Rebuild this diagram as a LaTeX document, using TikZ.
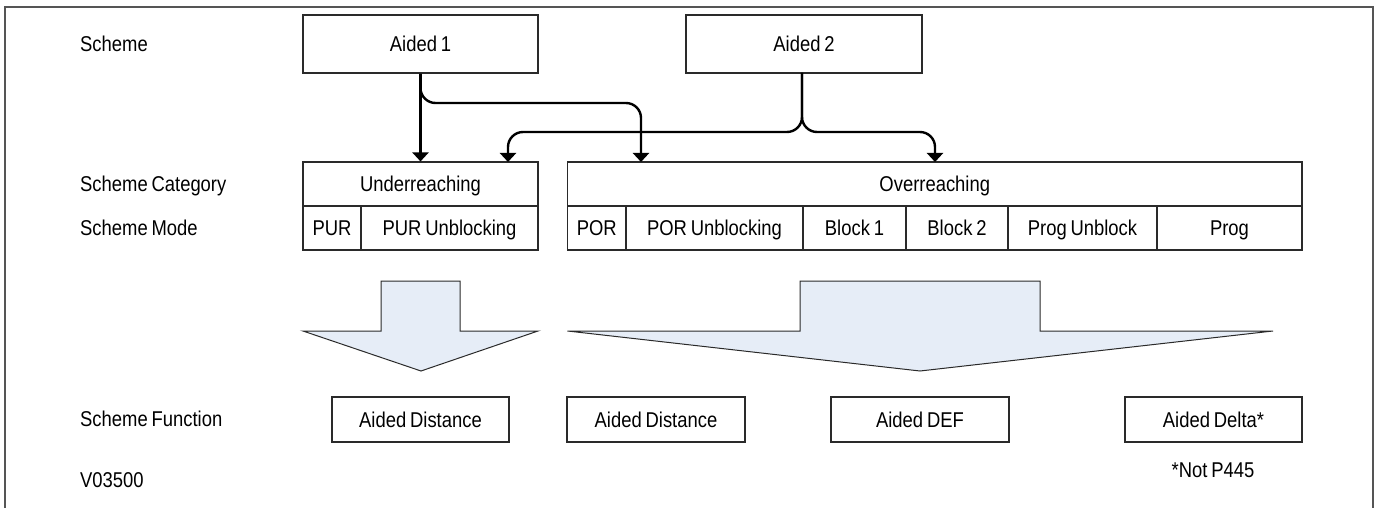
\documentclass[tikz,border=0pt]{standalone}
\usepackage{fontspec}
\setmainfont{Liberation Sans}[FakeStretch=0.86, WordSpace=0.75]
\usetikzlibrary{arrows.meta}
\definecolor{framegray}{HTML}{555555}
\definecolor{boxgray}{HTML}{2A2A2A}
\definecolor{arrowfill}{HTML}{E6EDF7}
\tikzset{
  cellbox/.style={draw=boxgray, line width=1.1bp, inner sep=0pt, align=center, text height=15.5bp, text depth=0bp},
  lbl/.style={anchor=west, inner sep=0pt, text height=15.5bp, text depth=0bp},
  conn/.style={line width=2.4bp, black, -{Triangle[width=16bp,length=9bp]}},
  bigarrow/.style={draw=boxgray, line width=1bp, fill=arrowfill, line join=miter},
}
\begin{document}
\begin{tikzpicture}[x=1bp, y=-1bp, every node/.style={font=\fontsize{21.5}{25}\selectfont}]
\useasboundingbox (0,0) rectangle (1380,508);
% frame
\draw[framegray, line width=2bp] (5,508) -- (5,7) -- (1373,7) -- (1373,508);
% labels
\node[lbl] (lscheme) at (80,44) {Scheme};
\node[lbl] (lcat) at (80,184) {Scheme Category};
\node[lbl] (lmode) at (80,228) {Scheme Mode};
\node[lbl] (lfunc) at (80,419) {Scheme Function};
\node[lbl] (lver) at (80,480) {V03500};
% scheme boxes
\node[cellbox, minimum width=235bp, minimum height=58bp] (a1) at (420.5,44) {Aided 1};
\node[cellbox, minimum width=236bp, minimum height=58bp] (a2) at (804,44) {Aided 2};
% category
\node[cellbox, minimum width=235bp, minimum height=44bp] (under) at (420.5,184) {Underreaching};
\node[cellbox, minimum width=734.5bp, minimum height=44bp] (over) at (934.75,184) {Overreaching};
% modes
\node[cellbox, minimum width=58bp, minimum height=44bp] (pur) at (332,228) {PUR};
\node[cellbox, minimum width=177bp, minimum height=44bp] (purub) at (449.5,228) {PUR Unblocking};
\node[cellbox, minimum width=58.5bp, minimum height=44bp] (por) at (596.75,228) {POR};
\node[cellbox, minimum width=177bp, minimum height=44bp] (porub) at (714.5,228) {POR Unblocking};
\node[cellbox, minimum width=103bp, minimum height=44bp] (blk1) at (854.5,228) {Block 1};
\node[cellbox, minimum width=102bp, minimum height=44bp] (blk2) at (957,228) {Block 2};
\node[cellbox, minimum width=149bp, minimum height=44bp] (progub) at (1082.5,228) {Prog Unblock};
\node[cellbox, minimum width=145bp, minimum height=44bp] (prog) at (1229.5,228) {Prog};
% functions
\node[cellbox, minimum width=177bp, minimum height=45bp] (fad1) at (420.5,419.5) {Aided Distance};
\node[cellbox, minimum width=178bp, minimum height=45bp] (fad2) at (656,419.5) {Aided Distance};
\node[cellbox, minimum width=178bp, minimum height=45bp] (fdef) at (920,419.5) {Aided DEF};
\node[cellbox, minimum width=177bp, minimum height=45bp] (fdelta) at (1213.5,419.5) {Aided Delta*};
\node[inner sep=0pt, text height=15.5bp, text depth=0bp] (note) at (1213,470) {*Not P445};
% big arrows
\draw[bigarrow] (381,281) -- (460,281) -- (460,331) -- (538,331) -- (421,371) -- (303,331) -- (381,331) -- cycle;
\draw[bigarrow] (800,281) -- (1040,281) -- (1040,331) -- (1273,331) -- (920,371) -- (567.5,331) -- (800,331) -- cycle;
% connector coordinates
\coordinate (j1) at (641,103);
\coordinate (t1) at (641,162);
\coordinate (j2) at (802,132);
\coordinate (s2) at (802,73);
\coordinate (jl) at (508,132);
\coordinate (tl) at (508,162);
\coordinate (jr) at (935,132);
\coordinate (tr) at (935,162);
% connectors
\draw[conn] (a1.south) -- (under.north);
\draw[conn, rounded corners=15bp] (a1.south) |- (j1) -- (t1);
\draw[conn, rounded corners=15bp] (s2) -- (j2) -- (jl) -- (tl);
\draw[conn, rounded corners=15bp] (s2) -- (j2) -- (jr) -- (tr);
\end{tikzpicture}
\end{document}
